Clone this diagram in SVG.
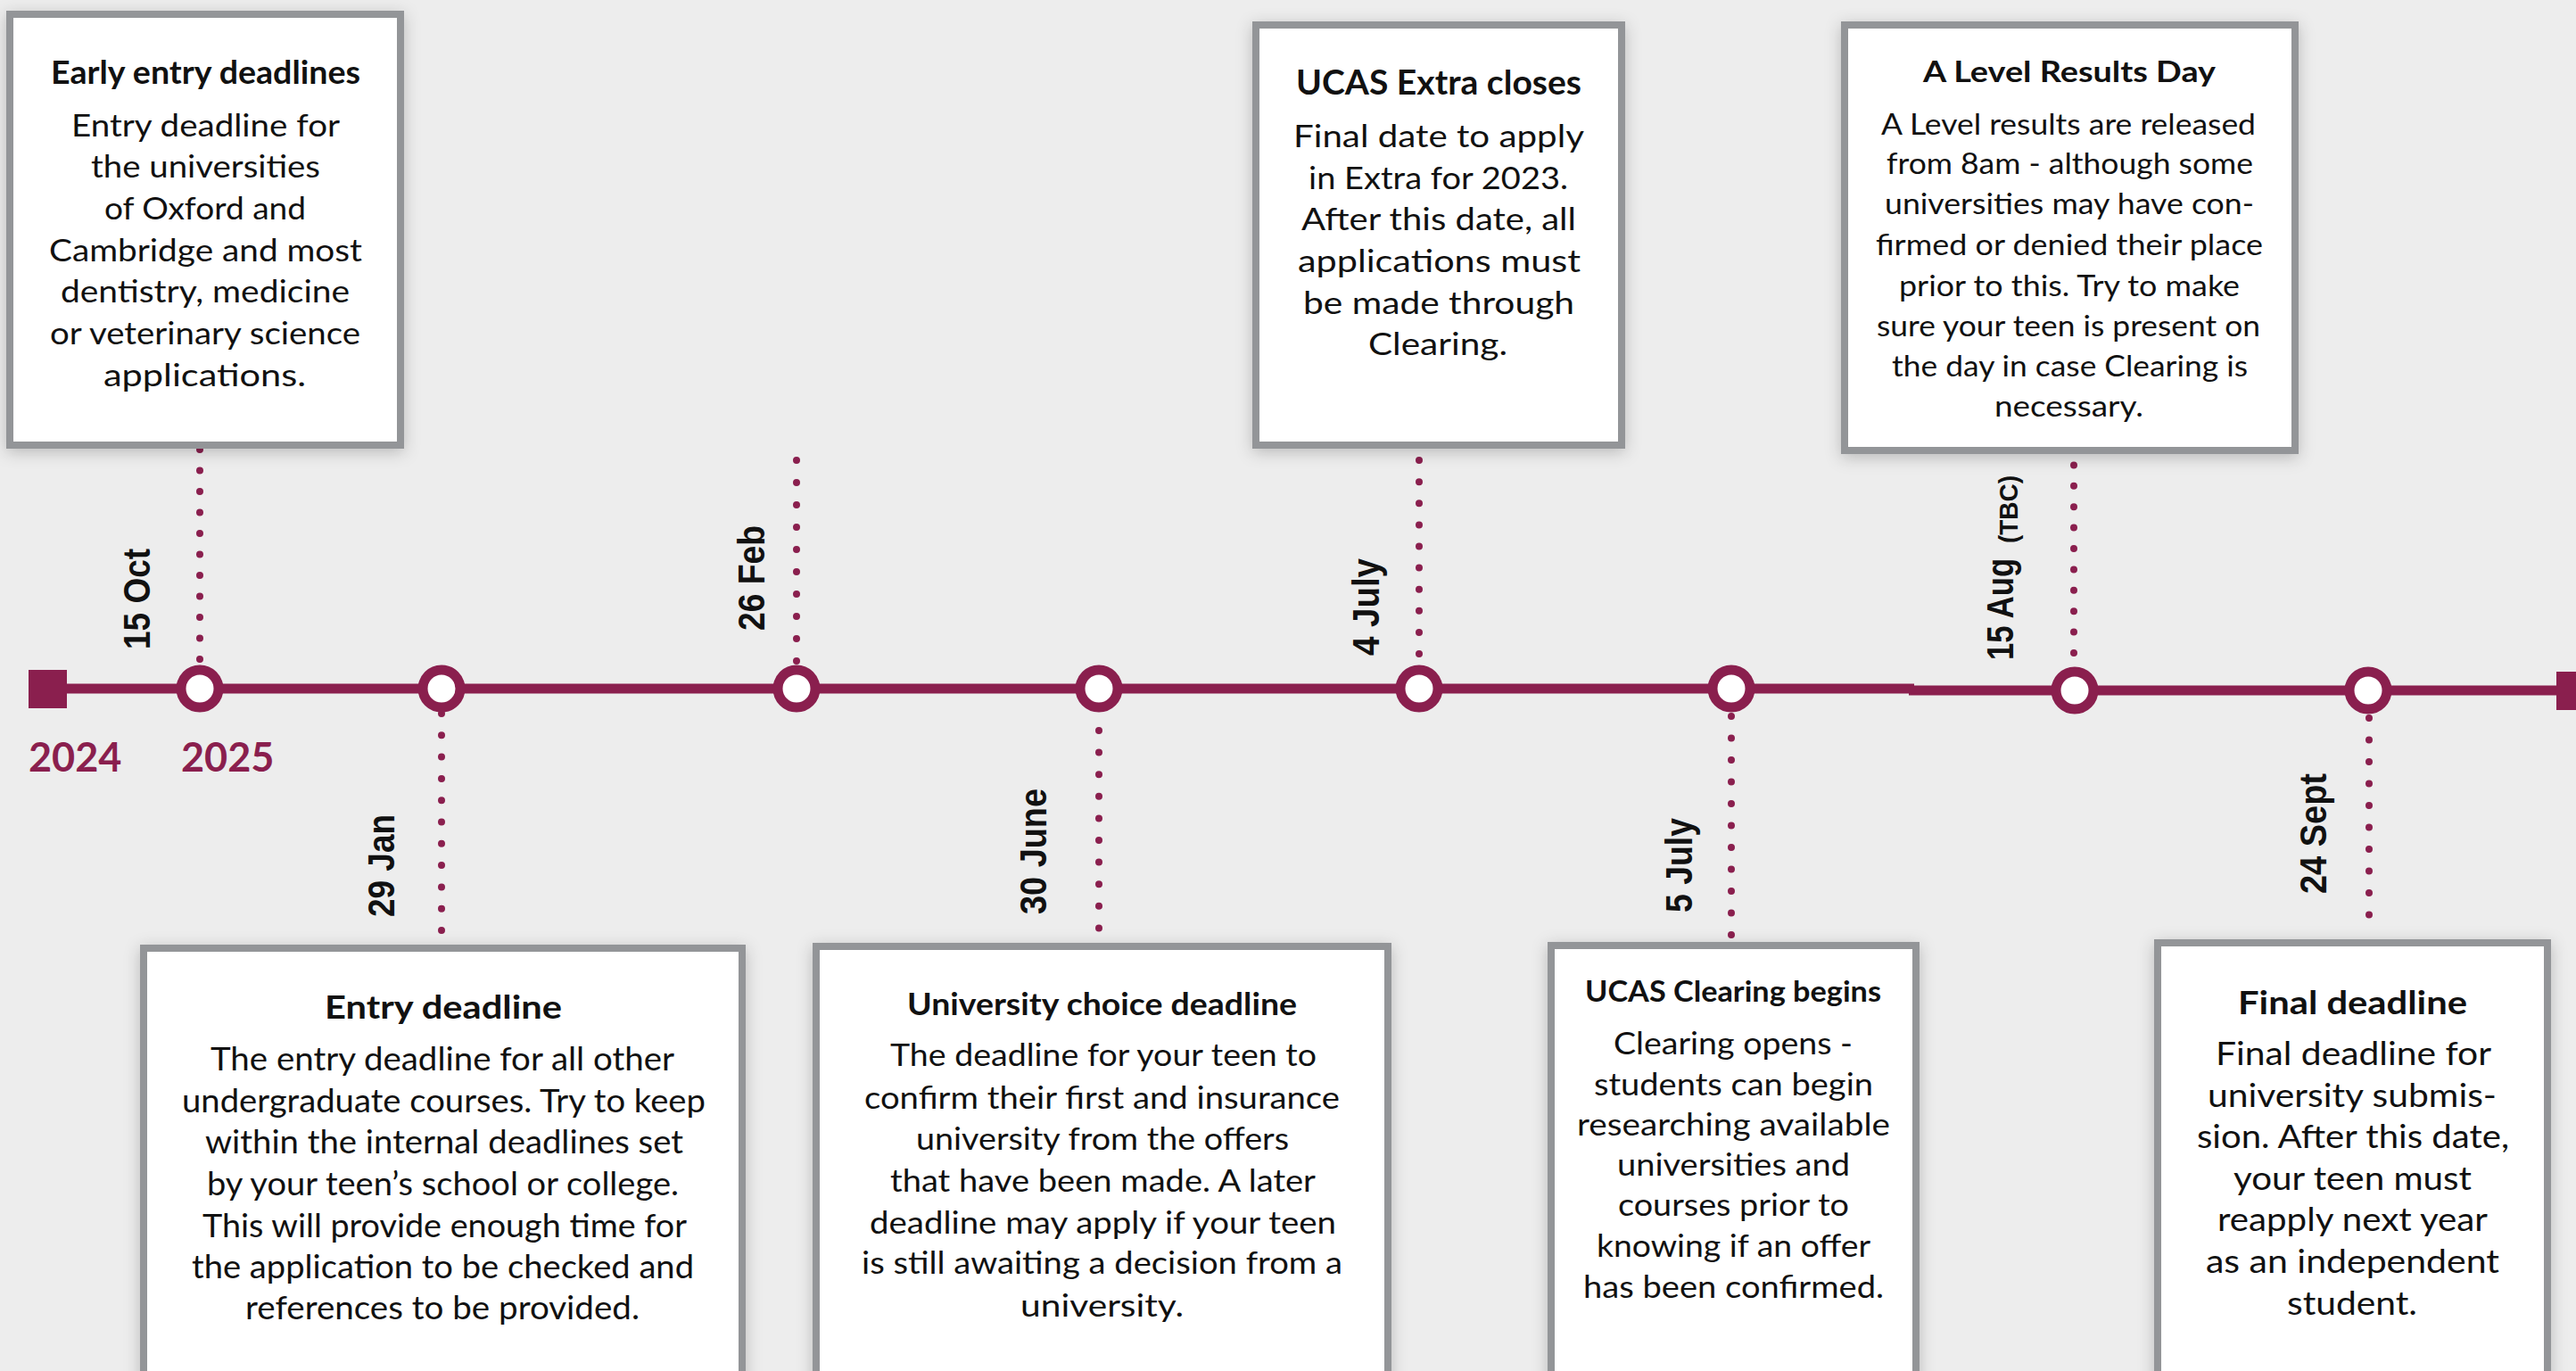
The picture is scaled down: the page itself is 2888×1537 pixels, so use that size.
<svg xmlns="http://www.w3.org/2000/svg" width="2888" height="1537" viewBox="0 0 2888 1537">
<defs>
<filter id="sh" x="-10%" y="-10%" width="120%" height="120%">
<feDropShadow dx="0" dy="4" stdDeviation="9" flood-color="#000" flood-opacity="0.22"/>
</filter>
</defs>
<style>
.box{fill:#fff;stroke:#939598;stroke-width:8;filter:url(#sh)}
.t{font-family:Lato,"Open Sans",sans-serif;font-weight:700;fill:#111}
.b{font-family:Lato,"Open Sans",sans-serif;font-weight:400;fill:#111}
.d{font-family:"Liberation Sans",Arial,sans-serif;font-weight:700;font-size:42px;fill:#111}
.yr{font-family:Lato,"Liberation Sans",sans-serif;font-weight:700;font-size:45px;fill:#8a1f4e}
.dot{stroke:#8a1f4e;stroke-width:8;stroke-linecap:round;fill:none}
.tl{stroke:#8a1f4e;stroke-width:11;fill:none}
.node{fill:#fff;stroke:#8a1f4e;stroke-width:11}
</style>
<rect width="2888" height="1537" fill="#ededed"/>

<g id="connectors">
<line class="dot" x1="224" y1="739" x2="224" y2="500" stroke-dasharray="0 23.5"/>
<line class="dot" x1="495" y1="800" x2="495" y2="1050" stroke-dasharray="0 24.3"/>
<line class="dot" x1="893" y1="741" x2="893" y2="510" stroke-dasharray="0 25"/>
<line class="dot" x1="1232" y1="819" x2="1232" y2="1045" stroke-dasharray="0 24.6"/>
<line class="dot" x1="1591" y1="733" x2="1591" y2="510" stroke-dasharray="0 24.1"/>
<line class="dot" x1="1941" y1="803" x2="1941" y2="1050" stroke-dasharray="0 24.5"/>
<line class="dot" x1="2325" y1="732" x2="2325" y2="515" stroke-dasharray="0 23.4"/>
<line class="dot" x1="2656" y1="805" x2="2656" y2="1050" stroke-dasharray="0 24.5"/>
<line class="tl" x1="60" y1="772" x2="2146" y2="772"/>
<line class="tl" x1="2140" y1="774" x2="2880" y2="774"/>
</g>

<g id="timeline-ends">
<rect x="32" y="751" width="43" height="43" fill="#8a1f4e"/>
<rect x="2866" y="753" width="43" height="43" fill="#8a1f4e"/>
<text class="yr" x="32" y="865">2024</text>
<text class="yr" x="203" y="865">2025</text>
</g>

<g id="node-15oct">
<circle class="node" cx="224" cy="772" r="21"/>
<text class="d" transform="translate(168,728) rotate(-90)" textLength="113" lengthAdjust="spacingAndGlyphs">15 Oct</text>
</g>
<g id="node-29jan">
<circle class="node" cx="495" cy="772" r="21"/>
<text class="d" transform="translate(442,1028) rotate(-90)" textLength="115" lengthAdjust="spacingAndGlyphs">29 Jan</text>
</g>
<g id="node-26feb">
<circle class="node" cx="893" cy="772" r="21"/>
<text class="d" transform="translate(857,707) rotate(-90)" textLength="118" lengthAdjust="spacingAndGlyphs">26 Feb</text>
</g>
<g id="node-30june">
<circle class="node" cx="1232" cy="772" r="21"/>
<text class="d" transform="translate(1173,1025) rotate(-90)" textLength="141" lengthAdjust="spacingAndGlyphs">30 June</text>
</g>
<g id="node-4july">
<circle class="node" cx="1591" cy="772" r="21"/>
<text class="d" transform="translate(1546,735) rotate(-90)" textLength="109" lengthAdjust="spacingAndGlyphs">4 July</text>
</g>
<g id="node-5july">
<circle class="node" cx="1941" cy="772" r="21"/>
<text class="d" transform="translate(1897,1023) rotate(-90)" textLength="106" lengthAdjust="spacingAndGlyphs">5 July</text>
</g>
<g id="node-15aug">
<circle class="node" cx="2326" cy="774" r="21"/>
<text class="d" transform="translate(2257,740) rotate(-90)" textLength="114" lengthAdjust="spacingAndGlyphs">15 Aug</text>
<text class="d" style="font-size:30px" transform="translate(2262,609) rotate(-90)" textLength="76" lengthAdjust="spacingAndGlyphs">(TBC)</text>
</g>
<g id="node-24sept">
<circle class="node" cx="2655" cy="774" r="21"/>
<text class="d" transform="translate(2608,1002) rotate(-90)" textLength="135" lengthAdjust="spacingAndGlyphs">24 Sept</text>
</g>

<g id="box-early-entry">
<rect class="box" x="11" y="16" width="438" height="483"/>
<text class="t" font-size="37" x="57" y="94" textLength="347" lengthAdjust="spacingAndGlyphs">Early entry deadlines</text>
<g class="b" font-size="35">
<text x="80" y="153" textLength="301" lengthAdjust="spacingAndGlyphs">Entry deadline for</text>
<text x="102" y="199" textLength="257" lengthAdjust="spacingAndGlyphs">the universities</text>
<text x="117" y="246" textLength="226" lengthAdjust="spacingAndGlyphs">of Oxford and</text>
<text x="55" y="293" textLength="351" lengthAdjust="spacingAndGlyphs">Cambridge and most</text>
<text x="68" y="339" textLength="324" lengthAdjust="spacingAndGlyphs">dentistry, medicine</text>
<text x="56" y="386" textLength="348" lengthAdjust="spacingAndGlyphs">or veterinary science</text>
<text x="116" y="433" textLength="227" lengthAdjust="spacingAndGlyphs">applications.</text>
</g>
</g>

<g id="box-ucas-extra">
<rect class="box" x="1408" y="28" width="410" height="471"/>
<text class="t" font-size="38" x="1453" y="106" textLength="320" lengthAdjust="spacingAndGlyphs">UCAS Extra closes</text>
<g class="b" font-size="35">
<text x="1450" y="165" textLength="326" lengthAdjust="spacingAndGlyphs">Final date to apply</text>
<text x="1467" y="212" textLength="291" lengthAdjust="spacingAndGlyphs">in Extra for 2023.</text>
<text x="1459" y="258" textLength="308" lengthAdjust="spacingAndGlyphs">After this date, all</text>
<text x="1455" y="305" textLength="317" lengthAdjust="spacingAndGlyphs">applications must</text>
<text x="1461" y="352" textLength="304" lengthAdjust="spacingAndGlyphs">be made through</text>
<text x="1534" y="398" textLength="156" lengthAdjust="spacingAndGlyphs">Clearing.</text>
</g>
</g>

<g id="box-a-level">
<rect class="box" x="2068" y="28" width="505" height="477"/>
<text class="t" font-size="33" x="2156" y="92" textLength="328" lengthAdjust="spacingAndGlyphs">A Level Results Day</text>
<g class="b" font-size="32">
<text x="2109" y="151" textLength="420" lengthAdjust="spacingAndGlyphs">A Level results are released</text>
<text x="2115" y="195" textLength="411" lengthAdjust="spacingAndGlyphs">from 8am - although some</text>
<text x="2113" y="240" textLength="414" lengthAdjust="spacingAndGlyphs">universities may have con-</text>
<text x="2103" y="286" textLength="434" lengthAdjust="spacingAndGlyphs">firmed or denied their place</text>
<text x="2129" y="332" textLength="382" lengthAdjust="spacingAndGlyphs">prior to this. Try to make</text>
<text x="2104" y="377" textLength="430" lengthAdjust="spacingAndGlyphs">sure your teen is present on</text>
<text x="2121" y="422" textLength="399" lengthAdjust="spacingAndGlyphs">the day in case Clearing is</text>
<text x="2236" y="467" textLength="167" lengthAdjust="spacingAndGlyphs">necessary.</text>
</g>
</g>

<g id="box-entry-deadline">
<rect class="box" x="161" y="1063" width="671" height="500"/>
<text class="t" font-size="36" x="364" y="1142" textLength="266" lengthAdjust="spacingAndGlyphs">Entry deadline</text>
<g class="b" font-size="37">
<text x="236" y="1200" textLength="520" lengthAdjust="spacingAndGlyphs">The entry deadline for all other</text>
<text x="204" y="1247" textLength="587" lengthAdjust="spacingAndGlyphs">undergraduate courses. Try to keep</text>
<text x="230" y="1293" textLength="536" lengthAdjust="spacingAndGlyphs">within the internal deadlines set</text>
<text x="232" y="1340" textLength="529" lengthAdjust="spacingAndGlyphs">by your teen’s school or college.</text>
<text x="227" y="1387" textLength="543" lengthAdjust="spacingAndGlyphs">This will provide enough time for</text>
<text x="215" y="1433" textLength="563" lengthAdjust="spacingAndGlyphs">the application to be checked and</text>
<text x="275" y="1479" textLength="442" lengthAdjust="spacingAndGlyphs">references to be provided.</text>
</g>
</g>

<g id="box-university-choice">
<rect class="box" x="915" y="1061" width="641" height="500"/>
<text class="t" font-size="35" x="1017" y="1138" textLength="437" lengthAdjust="spacingAndGlyphs">University choice deadline</text>
<g class="b" font-size="35">
<text x="998" y="1195" textLength="478" lengthAdjust="spacingAndGlyphs">The deadline for your teen to</text>
<text x="969" y="1243" textLength="533" lengthAdjust="spacingAndGlyphs">confirm their first and insurance</text>
<text x="1027" y="1289" textLength="418" lengthAdjust="spacingAndGlyphs">university from the offers</text>
<text x="998" y="1336" textLength="477" lengthAdjust="spacingAndGlyphs">that have been made. A later</text>
<text x="975" y="1383" textLength="523" lengthAdjust="spacingAndGlyphs">deadline may apply if your teen</text>
<text x="966" y="1428" textLength="539" lengthAdjust="spacingAndGlyphs">is still awaiting a decision from a</text>
<text x="1144" y="1476" textLength="183" lengthAdjust="spacingAndGlyphs">university.</text>
</g>
</g>

<g id="box-ucas-clearing">
<rect class="box" x="1739" y="1060" width="409" height="500"/>
<text class="t" font-size="32" x="1777" y="1123" textLength="332" lengthAdjust="spacingAndGlyphs">UCAS Clearing begins</text>
<g class="b" font-size="35">
<text x="1809" y="1182" textLength="268" lengthAdjust="spacingAndGlyphs">Clearing opens -</text>
<text x="1787" y="1228" textLength="313" lengthAdjust="spacingAndGlyphs">students can begin</text>
<text x="1768" y="1273" textLength="351" lengthAdjust="spacingAndGlyphs">researching available</text>
<text x="1813" y="1318" textLength="261" lengthAdjust="spacingAndGlyphs">universities and</text>
<text x="1814" y="1363" textLength="259" lengthAdjust="spacingAndGlyphs">courses prior to</text>
<text x="1790" y="1409" textLength="307" lengthAdjust="spacingAndGlyphs">knowing if an offer</text>
<text x="1775" y="1455" textLength="337" lengthAdjust="spacingAndGlyphs">has been confirmed.</text>
</g>
</g>

<g id="box-final-deadline">
<rect class="box" x="2419" y="1057" width="437" height="500"/>
<text class="t" font-size="37" x="2509" y="1137" textLength="257" lengthAdjust="spacingAndGlyphs">Final deadline</text>
<g class="b" font-size="36">
<text x="2484" y="1194" textLength="309" lengthAdjust="spacingAndGlyphs">Final deadline for</text>
<text x="2475" y="1241" textLength="324" lengthAdjust="spacingAndGlyphs">university submis-</text>
<text x="2463" y="1287" textLength="350" lengthAdjust="spacingAndGlyphs">sion. After this date,</text>
<text x="2504" y="1334" textLength="267" lengthAdjust="spacingAndGlyphs">your teen must</text>
<text x="2486" y="1380" textLength="303" lengthAdjust="spacingAndGlyphs">reapply next year</text>
<text x="2473" y="1427" textLength="329" lengthAdjust="spacingAndGlyphs">as an independent</text>
<text x="2564" y="1474" textLength="146" lengthAdjust="spacingAndGlyphs">student.</text>
</g>
</g>
</svg>
